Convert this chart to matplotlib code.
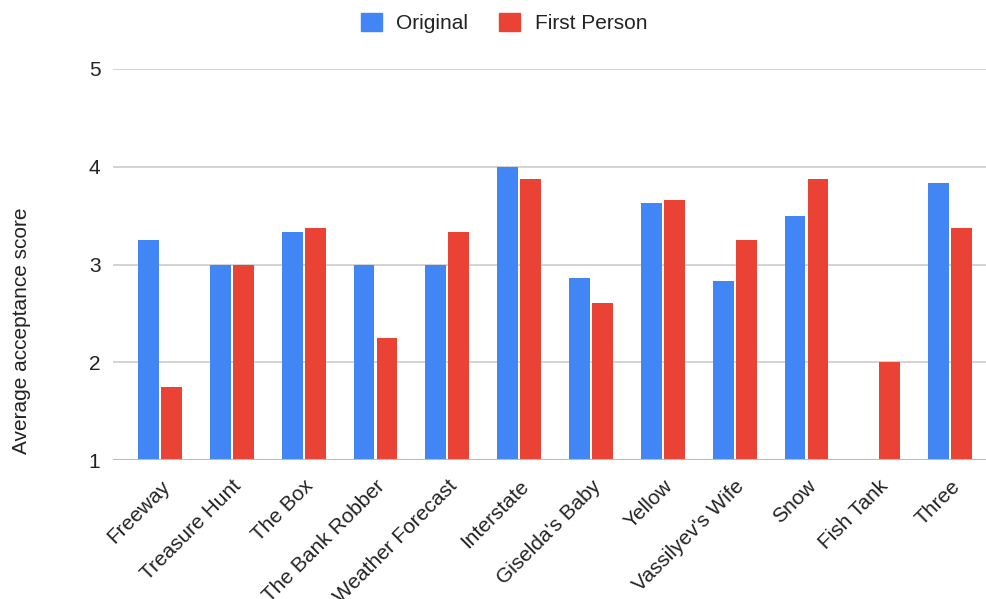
import matplotlib.pyplot as plt
import numpy as np
from matplotlib.patches import Patch

plt.rcParams['font.family'] = ['Liberation Sans', 'DejaVu Sans']

stories = ['Freeway', 'Treasure Hunt', 'The Box', 'The Bank Robber',
           'Weather Forecast', 'Interstate', "Giselda's Baby", 'Yellow',
           "Vassilyev's Wife", 'Snow', 'Fish Tank', 'Three']
original = [3.25, 3.0, 3.33, 3.0, 3.0, 4.0, 2.86, 3.63, 2.83, 3.5, np.nan, 3.83]
first_person = [1.75, 3.0, 3.37, 2.25, 3.33, 3.875, 2.61, 3.66, 3.25, 3.875, 2.0, 3.37]

BLUE = '#4285F4'
RED = '#EA4335'
TEXT = '#222222'

fig = plt.figure(figsize=(9.86, 5.99), dpi=100)
ax = fig.add_axes([113 / 986, 139 / 599, 873 / 986, 391 / 599])

x = np.arange(len(stories))
w = 0.29
off = 0.16
ax.bar(x - off, np.array(original) - 1, w, bottom=1, color=BLUE, zorder=3)
ax.bar(x + off, np.array(first_person) - 1, w, bottom=1, color=RED, zorder=3)

ax.set_xlim(-0.655, 11.5)
ax.set_ylim(1, 5)
ax.set_yticks([1, 2, 3, 4, 5])
ax.yaxis.grid(True, color='#cccccc', linewidth=1.2, zorder=0)
ax.axhline(1, color='#bbbbbb', linewidth=1.5, zorder=4)

for s in ax.spines.values():
    s.set_visible(False)
ax.tick_params(axis='both', length=0, labelsize=15, colors=TEXT)
ax.tick_params(axis='y', pad=9)

ax.set_xticks(x)
ax.set_xticklabels(stories, rotation=45, ha='right', rotation_mode='anchor')
ax.tick_params(axis='x', pad=12)

fig.text(22 / 986, 1 - 331 / 599, 'Average acceptance score', rotation=90,
         ha='center', va='center', fontsize=15, color=TEXT)

handles = [Patch(color=BLUE, label='Original'), Patch(color=RED, label='First Person')]
fig.legend(handles=handles, loc='center', bbox_to_anchor=(504 / 986, 1 - 23 / 599),
           ncol=2, frameon=False, fontsize=15, handlelength=1.0, handleheight=1.0,
           handletextpad=0.7, columnspacing=1.5, labelcolor=TEXT)

fig.savefig('out.png', dpi=100)
